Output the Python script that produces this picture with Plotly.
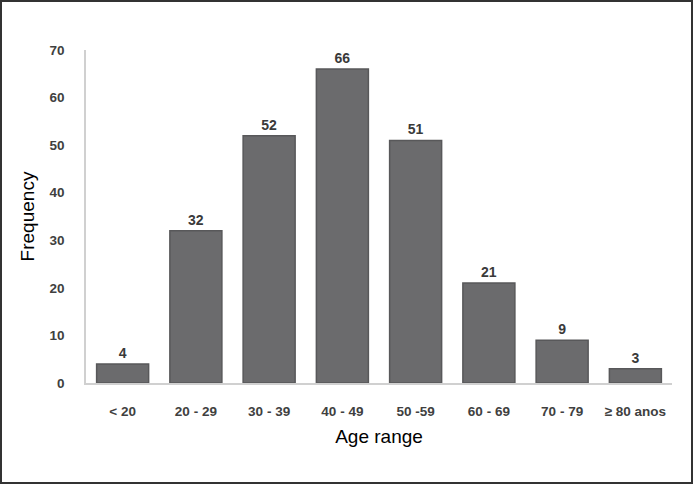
import plotly.graph_objects as go

categories = ["< 20", "20 - 29", "30 - 39", "40 - 49", "50 -59", "60 - 69", "70 - 79", "≥ 80 anos"]
frequency = [4, 32, 52, 66, 51, 21, 9, 3]
y_ticks = [0, 10, 20, 30, 40, 50, 60, 70]

fig = go.Figure()
fig.add_trace(go.Bar(
    x=categories, y=frequency,
    marker=dict(color="#6b6b6d", line=dict(color="#58585a", width=1.5)),
    text=[str(v) for v in frequency], textposition="outside",
    textfont=dict(family="Liberation Sans", size=14, color="#3a3a3a"),
    texttemplate="<b>%{text}</b>", cliponaxis=False,
))

fig.update_layout(
    width=694, height=484,
    margin=dict(l=86, r=22, t=50, b=101),
    paper_bgcolor="white", plot_bgcolor="white",
    bargap=0.29, showlegend=False,
    font=dict(family="Liberation Sans"),
)
fig.update_xaxes(
    showline=True, linecolor="#d0d0d0", linewidth=1.5,
    tickfont=dict(family="Liberation Sans", size=13.5, color="#404040", weight="bold"),
    ticklabelstandoff=15,
    title=dict(text="Age range", font=dict(family="Liberation Sans", size=19, color="black"), standoff=12),
)
fig.update_yaxes(
    range=[0, 70], tickvals=y_ticks, showgrid=False, zeroline=False,
    showline=True, linecolor="#d0d0d0", linewidth=1.5,
    tickfont=dict(family="Liberation Sans", size=13.5, color="#404040", weight="bold"),
    ticklabelstandoff=17,
    title=dict(text="Frequency", font=dict(family="Liberation Sans", size=19, color="black"), standoff=10),
)
fig.add_shape(type="rect", xref="paper", yref="paper",
              x0=-85/586, x1=1 + 20/586, y0=-100/333, y1=1 + 49/333,
              line=dict(color="#333333", width=2), fillcolor="rgba(0,0,0,0)")

fig.write_html("out.html", config={"displayModeBar": False},
               post_script="document.body.style.margin='0';document.body.style.overflow='hidden';")
